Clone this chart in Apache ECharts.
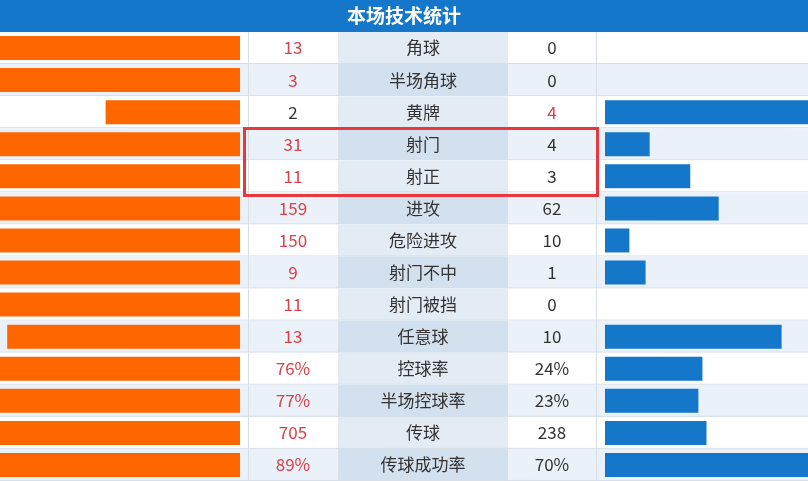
<!DOCTYPE html>
<html><head><meta charset="utf-8">
<script src="https://cdn.jsdelivr.net/npm/echarts@6/dist/echarts.min.js"></script>
<style>html,body{margin:0;padding:0;background:#fff}#c{width:808px;height:481px}</style>
</head><body><div id="c"></div>
<script>
var labels = ['角球', '半场角球', '黄牌', '射门', '射正', '进攻', '危险进攻', '射门不中', '射门被挡', '任意球', '控球率', '半场控球率', '传球', '传球成功率'];
var homeText = ['13', '3', '2', '31', '11', '159', '150', '9', '11', '13', '76%', '77%', '705', '89%'];
var awayText = ['0', '0', '4', '4', '3', '62', '10', '1', '0', '10', '24%', '23%', '238', '70%'];
// bar lengths (percent of bar area)
var homeBar = [100, 100, 56, 100, 100, 100, 100, 100, 100, 97, 100, 100, 100, 100];
var awayBar = [0, 0, 100, 22, 42, 56, 12, 20, 0, 87, 48, 46, 50, 100];

var chart = echarts.init(document.getElementById('c'));
var font = '"Microsoft YaHei","Noto Sans CJK SC",sans-serif';

function num(s) { return parseFloat(s); }

function renderRow(params, api) {
    var i = api.value(0);
    var y0 = api.coord([0, i])[1] - 16;
    var h = 32;
    var stripe = i % 2 === 1;
    var bg = stripe ? '#eaf1f8' : '#ffffff';
    var mid = stripe ? '#d3e1ee' : '#e3ecf5';
    var hv = num(homeText[i]), av = num(awayText[i]);
    var homeColor = hv > av ? '#d9414a' : '#333';
    var awayColor = av > hv ? '#d9414a' : '#333';
    var line = '#d6dfe8';
    return {
        type: 'group',
        children: [
            {type: 'rect', shape: {x: 0, y: y0, width: 808, height: h}, style: {fill: bg}},
            {type: 'rect', shape: {x: 338, y: y0, width: 170, height: h}, style: {fill: mid}},
            {type: 'line', shape: {x1: 0, y1: y0 + h - 0.5, x2: 808, y2: y0 + h - 0.5}, style: {stroke: line, lineWidth: 1}},
            {type: 'line', shape: {x1: 248.5, y1: y0, x2: 248.5, y2: y0 + h}, style: {stroke: line, lineWidth: 1}},
            {type: 'line', shape: {x1: 596.5, y1: y0, x2: 596.5, y2: y0 + h}, style: {stroke: line, lineWidth: 1}},
            {type: 'text', style: {x: 293, y: y0 + h / 2, text: homeText[i], fill: homeColor, font: '17px ' + font, textAlign: 'center', textVerticalAlign: 'middle'}},
            {type: 'text', style: {x: 423, y: y0 + h / 2, text: labels[i], fill: '#333', font: '17px ' + font, textAlign: 'center', textVerticalAlign: 'middle'}},
            {type: 'text', style: {x: 552, y: y0 + h / 2, text: awayText[i], fill: awayColor, font: '17px ' + font, textAlign: 'center', textVerticalAlign: 'middle'}}
        ]
    };
}

var yCat = function (gi) {
    return {type: 'category', gridIndex: gi, data: labels, inverse: true, show: false};
};

chart.setOption({
    animation: false,
    grid: [
        {left: 0, top: 32, width: 808, height: 449},
        {left: 0, top: 32, width: 240, height: 449},
        {left: 605, top: 32, width: 203, height: 449}
    ],
    xAxis: [
        {type: 'value', gridIndex: 0, min: 0, max: 808, show: false},
        {type: 'value', gridIndex: 1, min: 0, max: 100, inverse: true, show: false},
        {type: 'value', gridIndex: 2, min: 0, max: 100, show: false}
    ],
    yAxis: [yCat(0), yCat(1), yCat(2)],
    graphic: [
        {type: 'rect', shape: {x: 0, y: 0, width: 808, height: 32}, style: {fill: '#1577c9'}, z: 10},
        {type: 'text', x: 404, y: 16, z: 11, style: {text: '本场技术统计', fill: '#fff', font: 'bold 19px ' + font, textAlign: 'center', textVerticalAlign: 'middle'}},
        {type: 'rect', shape: {x: 244.5, y: 128.5, width: 353, height: 67}, style: {fill: null, stroke: '#e8383d', lineWidth: 3}, z: 20}
    ],
    series: [
        {type: 'custom', xAxisIndex: 0, yAxisIndex: 0, data: labels.map(function (l, i) { return [i]; }), renderItem: renderRow, encode: {y: 0}, z: 1},
        {type: 'bar', xAxisIndex: 1, yAxisIndex: 1, data: homeBar, barWidth: 24, itemStyle: {color: '#ff6600'}, z: 5},
        {type: 'bar', xAxisIndex: 2, yAxisIndex: 2, data: awayBar, barWidth: 24, itemStyle: {color: '#1577c9'}, z: 5}
    ]
});
</script></body></html>
